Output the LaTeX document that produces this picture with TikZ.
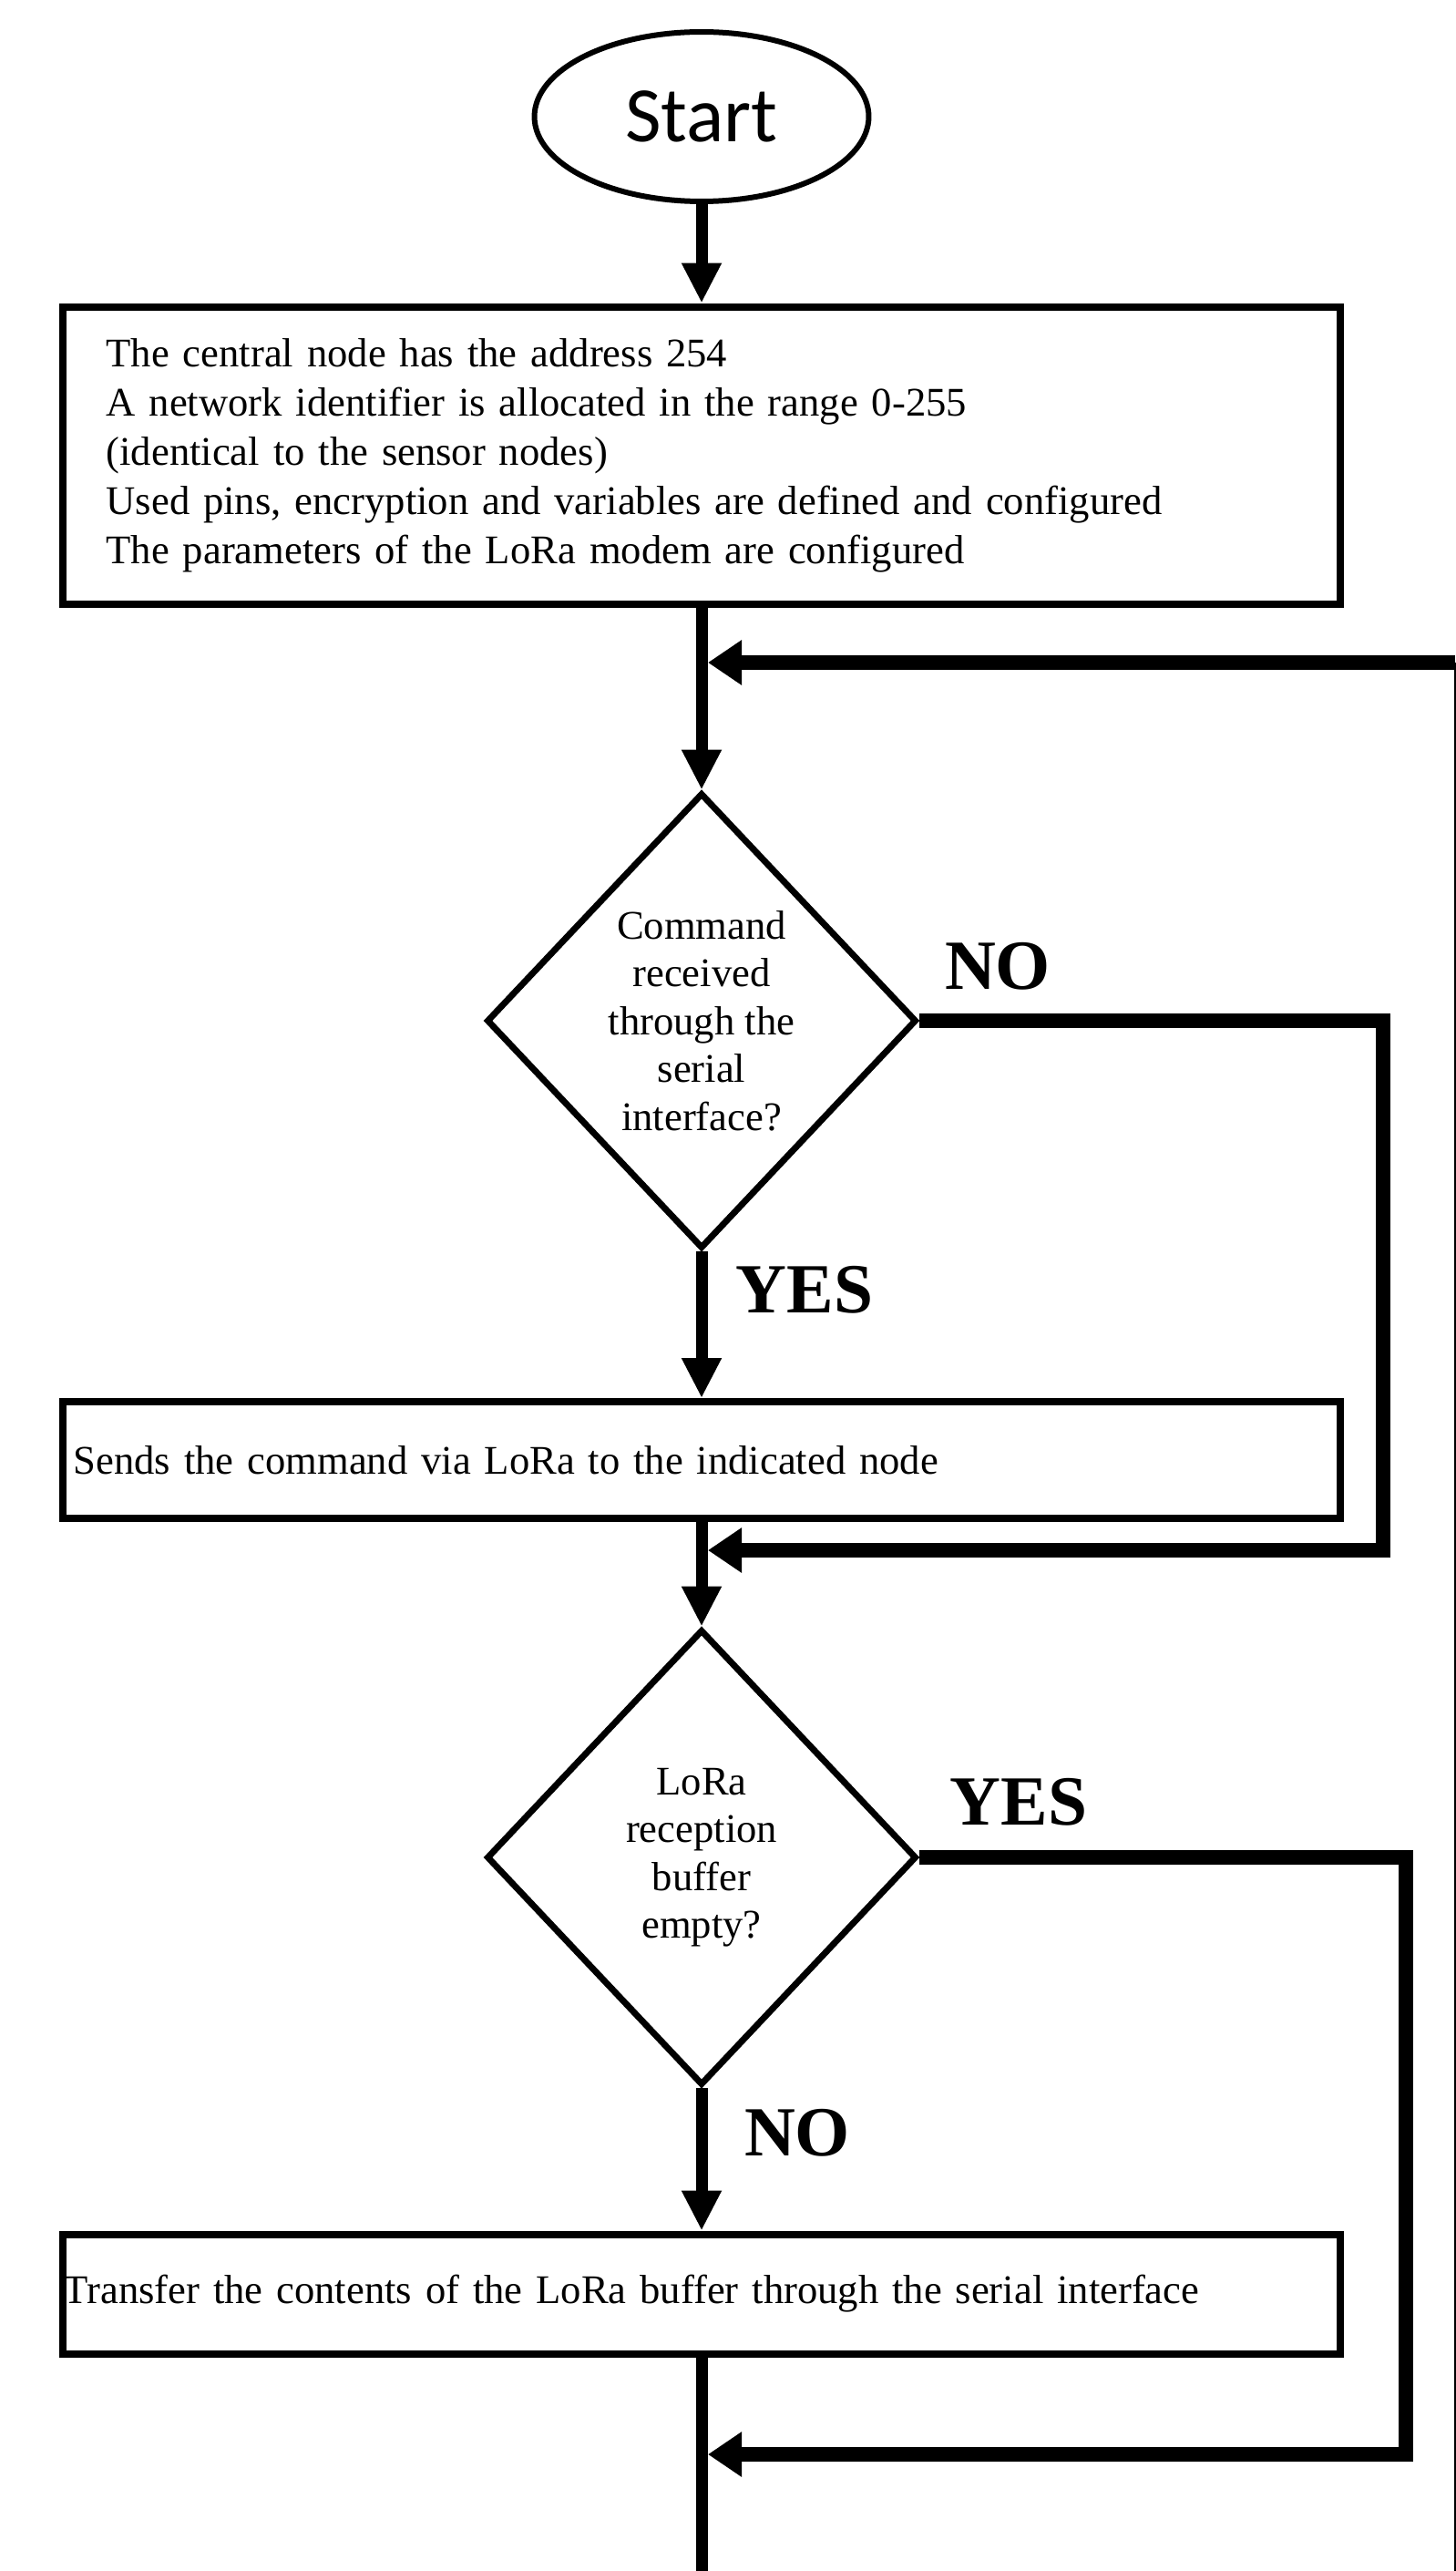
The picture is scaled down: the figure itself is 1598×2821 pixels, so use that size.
\documentclass[tikz,border=0pt]{standalone}
\usepackage{fontspec}
\setmainfont{Liberation Serif}
\newfontfamily\calibrifont{Carlito}
\usetikzlibrary{shapes.geometric,arrows.meta}

\begin{document}
\begin{tikzpicture}[x=0.02cm,y=-0.02cm,
  startnode/.style={ellipse,draw,line width=0.12cm,minimum width=7.34cm,minimum height=3.72cm,inner sep=0pt,font=\calibrifont\fontsize{49}{58}\selectfont},
  procbox/.style={rectangle,draw,line width=0.16cm,minimum width=28.06cm,inner ysep=0pt,align=left,font=\fontsize{25.4}{30.7}\selectfont},
  decision/.style={diamond,draw,line width=0.14cm,minimum width=9.44cm,minimum height=10cm,inner sep=0pt,align=center,font=\fontsize{25.4}{29.9}\selectfont},
  answer/.style={inner sep=0pt,font=\bfseries\fontsize{44}{52}\selectfont},
  flow/.style={line width=0.26cm,-{Triangle[width=0.82cm,length=0.88cm]}},
  back/.style={line width=0.32cm,-{Triangle[width=0.94cm,length=0.74cm]}}]
\useasboundingbox (0,0) rectangle (1598,2821);

% blocks
\node[startnode] (start) at (770,128) {Start};
\node[procbox,minimum height=6.54cm,inner xsep=0.96cm,text width=26.14cm] (init) at (770,500)
  {The central node has the address 254\\
   A network identifier is allocated in the range 0-255\\
   (identical to the sensor nodes)\\
   Used pins, encryption and variables are defined and configured\\
   The parameters of the LoRa modem are configured};
\node[decision] (cmd) at (770,1120) {Command\\received\\through the\\serial\\interface?};
\node[procbox,minimum height=2.56cm,inner xsep=0.24cm,text width=27.58cm] (send) at (770,1602)
  {Sends the command via LoRa to the indicated node};
\node[decision] (buf) at (770,2038) {LoRa\\reception\\buffer\\empty?};
\node[procbox,minimum height=2.62cm,inner xsep=0.02cm,text width=28.02cm] (xfer) at (770,2517)
  {Transfer the contents of the LoRa buffer through the serial interface};

% answers
\node[answer] (no1) at (1095,1060) {NO};
\node[answer] (yes1) at (883,1415) {YES};
\node[answer] (yes2) at (1118,1977) {YES};
\node[answer] (no2) at (875,2340) {NO};

% corners and joints
\coordinate (loopin) at (777,727);
\coordinate (loopR) at (1597,727);
\coordinate (loopB) at (1597,2821);
\coordinate (tail) at (770,2821);
\coordinate (cmdR) at (1518,1120);
\coordinate (join1) at (777,1701);
\coordinate (bufR) at (1543,2038);
\coordinate (join2) at (777,2693);

% main flow
\draw[flow] (start.south) -- (init.north);
\draw[flow] (init.south) -- (cmd.north);
\draw[flow] (cmd.south) -- (send.north);
\draw[flow] (send.south) -- (buf.north);
\draw[flow] (buf.south) -- (xfer.north);
\draw[line width=0.26cm] (xfer.south) -- (tail);

% returns
\draw[line width=0.06cm] (loopB) -- (loopR);
\draw[back] (loopR) -- (loopin);
\draw[back] (cmd.east) -- (cmdR) |- (join1);
\draw[back] (buf.east) -- (bufR) |- (join2);
\end{tikzpicture}
\end{document}
